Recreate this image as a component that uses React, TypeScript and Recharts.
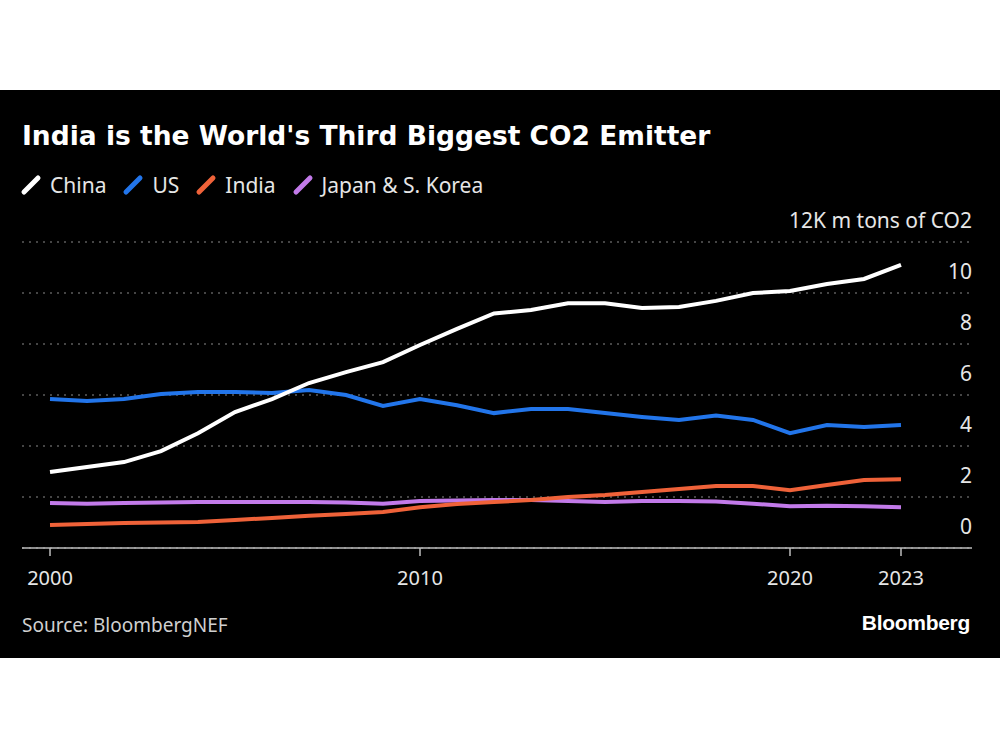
import { LineChart, Line, XAxis, YAxis, CartesianGrid } from "recharts";

const years = [
  2000, 2001, 2002, 2003, 2004, 2005, 2006, 2007, 2008, 2009, 2010, 2011,
  2012, 2013, 2014, 2015, 2016, 2017, 2018, 2019, 2020, 2021, 2022, 2023,
];
const china = [
  2.98, 3.18, 3.37, 3.8, 4.5, 5.33, 5.84, 6.47, 6.9, 7.29, 7.96, 8.59,
  9.2, 9.33, 9.6, 9.6, 9.41, 9.45, 9.69, 10.0, 10.08, 10.35, 10.55, 11.1,
];
const us = [
  5.84, 5.76, 5.84, 6.04, 6.12, 6.12, 6.08, 6.2, 6.0, 5.57, 5.84, 5.6,
  5.29, 5.45, 5.45, 5.29, 5.14, 5.02, 5.2, 5.02, 4.5, 4.82, 4.75, 4.82,
];
const india = [
  0.9, 0.94, 0.98, 1.0, 1.02, 1.1, 1.18, 1.26, 1.33, 1.41, 1.6, 1.73,
  1.8, 1.88, 2.0, 2.08, 2.2, 2.31, 2.43, 2.43, 2.27, 2.47, 2.67, 2.7,
];
const japanKorea = [
  1.76, 1.74, 1.76, 1.78, 1.8, 1.8, 1.8, 1.8, 1.78, 1.74, 1.84, 1.86,
  1.88, 1.88, 1.84, 1.8, 1.84, 1.84, 1.82, 1.74, 1.64, 1.66, 1.64, 1.6,
];
const xTicks = [2000, 2010, 2020, 2023];
const yTicks = [0, 2, 4, 6, 8, 10, 12];

const series = [
  { key: "japanKorea", name: "Japan & S. Korea", color: "#c27ae9" },
  { key: "india", name: "India", color: "#ef6239" },
  { key: "us", name: "US", color: "#2275ea" },
  { key: "china", name: "China", color: "#ffffff" },
];
const legendOrder = ["china", "us", "india", "japanKorea"];

const data = years.map((year, i) => ({
  year,
  china: china[i],
  us: us[i],
  india: india[i],
  japanKorea: japanKorea[i],
}));

const PLOT_RIGHT = 972;
const FONT = "'Noto Sans', 'DejaVu Sans', sans-serif";

function YTick(props: any) {
  const { y, payload } = props;
  const label = payload.value === 12 ? "12K m tons of CO2" : String(payload.value);
  return (
    <text x={PLOT_RIGHT} y={y - 14} textAnchor="end" fill="#e6e6e6" fontSize={21} fontFamily={FONT}>
      {label}
    </text>
  );
}

function Slash({ color }: { color: string }) {
  return (
    <svg width={22} height={22} style={{ display: "block" }}>
      <line x1={4} y1={18} x2={18} y2={4} stroke={color} strokeWidth={5} strokeLinecap="round" />
    </svg>
  );
}

export default function App() {
  return (
    <div style={{ position: "absolute", left: 0, top: 0, width: 1000, height: 750, background: "#fff", overflow: "hidden" }}>
      <div style={{ position: "absolute", left: 0, top: 90, width: 1000, height: 568, background: "#000" }} />
      <div
        style={{
          position: "absolute",
          left: 22,
          top: 119,
          color: "#fff",
          fontFamily: "'DejaVu Sans', sans-serif",
          fontWeight: 700,
          fontSize: 26.5,
          lineHeight: "34px",
          whiteSpace: "nowrap",
        }}
      >
        India is the World's Third Biggest CO2 Emitter
      </div>
      <div style={{ position: "absolute", left: 20, top: 171, display: "flex", alignItems: "center", fontFamily: FONT, fontSize: 21, color: "#e6e6e6" }}>
        {legendOrder.map((k) => {
          const s = series.find((x) => x.key === k)!;
          return (
            <div key={k} style={{ display: "flex", alignItems: "center", marginRight: 16 }}>
              <Slash color={s.color} />
              <span style={{ marginLeft: 8 }}>{s.name}</span>
            </div>
          );
        })}
      </div>
      <div style={{ position: "absolute", left: 0, top: 0 }}>
        <LineChart width={1000} height={750} data={data} margin={{ top: 242, right: 0, bottom: 162, left: 22 }}>
          <CartesianGrid vertical={false} stroke="#8a8a8a" strokeDasharray="2 5" />
          <XAxis
            dataKey="year"
            type="number"
            domain={[1999.243, 2024.919]}
            ticks={xTicks}
            allowDataOverflow
            height={40}
            stroke="#bdbdbd"
            strokeWidth={1.5}
            tickSize={8}
            tickMargin={15}
            tick={{ fill: "#e6e6e6", fontSize: 20, fontFamily: FONT }}
          />
          <YAxis
            orientation="right"
            domain={[0, 12]}
            ticks={yTicks}
            width={28}
            axisLine={false}
            tickLine={false}
            tick={<YTick />}
          />
          {series.map((s) => (
            <Line
              key={s.key}
              type="linear"
              dataKey={s.key}
              name={s.name}
              stroke={s.color}
              strokeWidth={4}
              dot={false}
              isAnimationActive={false}
            />
          ))}
        </LineChart>
      </div>
      <div style={{ position: "absolute", left: 22, top: 612, color: "#d0d0d0", fontFamily: FONT, fontSize: 19 }}>
        Source: BloombergNEF
      </div>
      <div
        style={{
          position: "absolute",
          right: 30,
          top: 611,
          color: "#fff",
          fontFamily: "'Liberation Sans', Arial, sans-serif",
          fontWeight: 700,
          fontSize: 21,
          letterSpacing: -0.3,
        }}
      >
        Bloomberg
      </div>
    </div>
  );
}
